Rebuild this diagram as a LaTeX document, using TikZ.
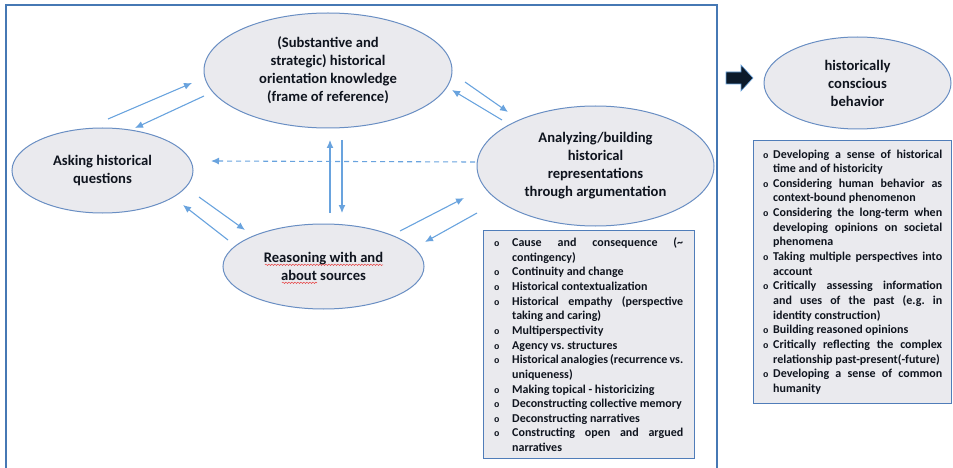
\documentclass[tikz,border=0pt]{standalone}
\usepackage{fontspec}
\setmainfont{Carlito}
\newfontfamily\bulletfont{Liberation Mono}
\usetikzlibrary{shapes.geometric,arrows.meta,decorations.pathmorphing}

\definecolor{framecol}{RGB}{70,120,180}
\definecolor{ellfill}{RGB}{234,234,238}
\definecolor{ellline}{RGB}{105,142,195}
\definecolor{arrowcol}{RGB}{105,163,222}
\definecolor{boxline}{RGB}{80,125,185}
\definecolor{inktext}{RGB}{15,20,30}
\definecolor{bignavy}{RGB}{12,26,42}
\definecolor{spellred}{RGB}{230,60,60}

% justified list block of a given width
\newenvironment{bulletlist}[1]
  {\begin{minipage}[t]{#1}\tolerance=10000\relax\hyphenpenalty=10000\relax\parindent=0pt\relax}
  {\end{minipage}}
% one bullet item with a hanging indent: indent, bullet offset, text
\newcommand\bitem[3]{\par\hangindent=#1\relax\hangafter=1\relax\noindent
  \makebox[#1][l]{\hspace{#2}{\bulletfont\fontsize{9}{9}\selectfont o}}#3\par}

\tikzset{
  phase/.style={ellipse, draw=ellline, line width=1pt, fill=ellfill, inner sep=0pt,
    text=inktext, align=center, font=\bfseries\fontsize{14.6}{18}\selectfont},
  link/.style={draw=arrowcol, line width=1.1pt, -{Latex[length=8pt,width=7pt]}},
  listbox/.style={draw=boxline, line width=1.2pt, fill=ellfill, anchor=north west, inner sep=0pt},
  listtext/.style={anchor=base west, inner sep=0pt, text=inktext,
    font=\bfseries\fontsize{12}{14.65}\selectfont},
  squig/.style={draw=spellred, line width=0.5pt, decorate,
    decoration={snake, segment length=3pt, amplitude=0.7pt}}
}

\begin{document}
\begin{tikzpicture}[x=1pt,y=-1pt]
\useasboundingbox (0,0) rectangle (953,468);
\clip (0,0) rectangle (953,468);

% outer frame around the learning cycle
\draw[framecol, line width=1.3pt] (6,472) -- (6,5) -- (717,5) -- (717,472);

% the four activities and the outcome
\node[phase, minimum width=248pt, minimum height=115pt] (know) at (328,70.5)
  {(Substantive and\\strategic) historical\\orientation knowledge\\(frame of reference)};
\node[phase, minimum width=181pt, minimum height=85pt] (ask) at (102.5,170.5)
  {Asking historical\\questions};
\node[phase, minimum width=201pt, minimum height=85pt] (src) at (323.5,266.5)
  {Reasoning with and\\about sources};
\node[phase, minimum width=237pt, minimum height=120pt] (rep) at (595.5,166)
  {Analyzing/building\\historical\\representations\\through argumentation};
\node[phase, minimum width=187pt, minimum height=92pt] (behav) at (857.5,83)
  {historically\\conscious\\behavior};

% spell-check marks under the sources label
\coordinate (sqA1) at (265,264.8);
\coordinate (sqA2) at (383,264.8);
\coordinate (sqB1) at (282,282.8);
\coordinate (sqB2) at (317,282.8);
\draw[squig] (sqA1) -- (sqA2);
\draw[squig] (sqB1) -- (sqB2);

% arrow end points
\coordinate (a1s) at (108,119);  \coordinate (a1e) at (192,83);
\coordinate (a2s) at (204,96);   \coordinate (a2e) at (135,128);
\coordinate (v1s) at (330,213);  \coordinate (v1e) at (330,140);
\coordinate (v2s) at (342,140);  \coordinate (v2e) at (342,213);
\coordinate (d1s) at (475,162);  \coordinate (d1e) at (211,161);
\coordinate (b1s) at (199,197);  \coordinate (b1e) at (245,230);
\coordinate (b2s) at (228,240);  \coordinate (b2e) at (183,205);
\coordinate (c1s) at (400,231);  \coordinate (c1e) at (464,198);
\coordinate (c2s) at (477,213);  \coordinate (c2e) at (425,242);
\coordinate (e1s) at (465,82);   \coordinate (e1e) at (508,112);
\coordinate (e2s) at (502,120);  \coordinate (e2e) at (452,90);

\draw[link] (a1s) -- (a1e);
\draw[link] (a2s) -- (a2e);
\draw[link] (v1s) -- (v1e);
\draw[link] (v2s) -- (v2e);
\draw[link, dash pattern=on 5pt off 4pt] (d1s) -- (d1e);
\draw[link] (b1s) -- (b1e);
\draw[link] (b2s) -- (b2e);
\draw[link] (c1s) -- (c1e);
\draw[link] (c2s) -- (c2e);
\draw[link] (e1s) -- (e1e);
\draw[link] (e2s) -- (e2e);

% block arrow towards the outcome
\draw[fill=bignavy, draw=arrowcol, line width=0.6pt]
  (726,72) -- (741,72) -- (741,65) -- (753,78) -- (741,91) -- (741,84) -- (726,84) -- cycle;

% list of second-order concepts
\node[listbox, minimum width=211pt, minimum height=228pt] (lbox) at (483,230) {};
\node[listtext] (ltext) at (494,246.5) {\begin{bulletlist}{189pt}
\bitem{18pt}{0pt}{Cause and consequence (\textasciitilde\linebreak contingency)}
\bitem{18pt}{0pt}{Continuity and change}
\bitem{18pt}{0pt}{Historical contextualization}
\bitem{18pt}{0pt}{Historical empathy (perspective\linebreak taking and caring)}
\bitem{18pt}{0pt}{Multiperspectivity}
\bitem{18pt}{0pt}{Agency vs.\ structures}
\bitem{18pt}{0pt}{Historical analogies (recurrence vs.\linebreak uniqueness)}
\bitem{18pt}{0pt}{Making topical - historicizing}
\bitem{18pt}{0pt}{Deconstructing collective memory}
\bitem{18pt}{0pt}{Deconstructing narratives}
\bitem{18pt}{0pt}{Constructing open and argued\linebreak narratives}
\end{bulletlist}};

% list of outcome dispositions
\node[listbox, minimum width=198pt, minimum height=263pt] (rbox) at (753,140) {};
\node[listtext] (rtext) at (762,158) {\begin{bulletlist}{180pt}
\bitem{11pt}{1pt}{Developing a sense of historical\linebreak time and of historicity}
\bitem{11pt}{1pt}{Considering human behavior as\linebreak context-bound phenomenon}
\bitem{11pt}{1pt}{Considering the long-term when\linebreak developing opinions on societal\linebreak phenomena}
\bitem{11pt}{1pt}{Taking multiple perspectives into\linebreak account}
\bitem{11pt}{1pt}{Critically assessing information\linebreak and uses of the past (e.g.\ in\linebreak identity construction)}
\bitem{11pt}{1pt}{Building reasoned opinions}
\bitem{11pt}{1pt}{Critically reflecting the complex\linebreak relationship past-present(-future)}
\bitem{11pt}{1pt}{Developing a sense of common\linebreak humanity}
\end{bulletlist}};
\end{tikzpicture}
\end{document}
